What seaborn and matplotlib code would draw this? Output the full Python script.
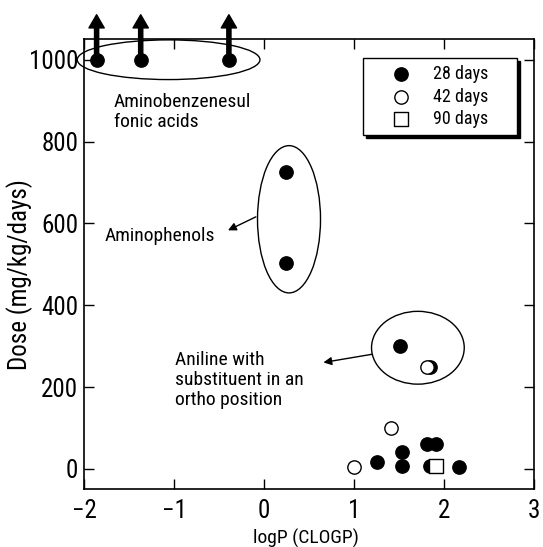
import matplotlib
matplotlib.use('Agg')
import matplotlib.pyplot as plt
from matplotlib.patches import Ellipse
import seaborn as sns
import pandas as pd

# valores
logp_28 = [-1.86, -1.37, -0.39, 0.24, 0.24, 1.51, 1.85, 1.26, 1.53, 1.53, 1.81, 1.91, 1.85, 2.17]
dose_28 = [1000, 1000, 1000, 725, 503, 300, 250, 16, 41, 6, 61, 61, 8, 4]
logp_42 = [1.81, 1.41, 1.00]
dose_42 = [250, 100, 4]
logp_90 = [1.91]
dose_90 = [7]
periodos = ['28 days', '42 days', '90 days']

df = pd.DataFrame({
    'logP': logp_28 + logp_42 + logp_90,
    'Dose': dose_28 + dose_42 + dose_90,
    'Periodo': [periodos[0]] * len(logp_28) + [periodos[1]] * len(logp_42) + [periodos[2]] * len(logp_90),
})

sns.set_theme(style='ticks')
plt.rcParams['font.family'] = ['Roboto Condensed', 'DejaVu Sans']
for k in ['text.color', 'axes.labelcolor', 'xtick.color', 'ytick.color', 'axes.edgecolor']:
    plt.rcParams[k] = 'black'
plt.rcParams['xtick.direction'] = 'in'
plt.rcParams['ytick.direction'] = 'in'

fig = plt.figure(figsize=(5.43, 5.47), dpi=100)
ax = fig.add_axes([0.1547, 0.1055, 0.8287, 0.8227])

estilos = {
    '28 days': dict(marker='o', color='black', edgecolor='black'),
    '42 days': dict(marker='o', color='white', edgecolor='black'),
    '90 days': dict(marker='s', color='white', edgecolor='black'),
}
for p in periodos:
    sub = df[df['Periodo'] == p]
    sns.scatterplot(data=sub, x='logP', y='Dose', s=92, linewidth=1, label=p,
                    ax=ax, zorder=3, **estilos[p])

ax.set_xlim(-2, 3)
ax.set_ylim(-50, 1050)
ax.set_xticks([-2, -1, 0, 1, 2, 3])
ax.set_yticks([0, 200, 400, 600, 800, 1000])
ax.tick_params(axis='both', labelsize=18, length=7, width=1, color='black',
               top=True, right=True)
ax.tick_params(axis='x', pad=7)
ax.tick_params(axis='y', pad=4)
for s in ax.spines.values():
    s.set_color('black')
    s.set_linewidth(1.2)

ax.set_xlabel('logP (CLOGP)', fontsize=14)
ax.set_ylabel('Dose (mg/kg/days)', fontsize=18)
ax.xaxis.set_label_coords(0.493, -0.087)
ax.yaxis.set_label_coords(-0.113, 0.478)

# setas para cima (dose > 1000)
for x, y in zip(logp_28[:3], dose_28[:3]):
    ax.annotate('', xy=(x, 1110), xytext=(x, y), annotation_clip=False,
                arrowprops=dict(facecolor='black', edgecolor='black', width=3,
                                headwidth=11, headlength=9.5, shrink=0))

# elipses em volta dos grupos
for cx, cy, w, h in [(-1.06, 1000, 2.03, 97), (0.278, 610, 0.70, 360), (1.71, 296, 1.03, 178)]:
    ax.add_patch(Ellipse((cx, cy), w, h, fill=False, edgecolor='black', lw=1, clip_on=False))

ax.text(-1.67, 873, 'Aminobenzenesul\nfonic acids', fontsize=14, va='center', linespacing=1.15)
ax.text(-1.77, 570, 'Aminophenols', fontsize=14, va='center')
ax.text(-0.99, 218, 'Aniline with\nsubstituent in an\northo position', fontsize=14,
        va='center', linespacing=1.15)

seta = dict(arrowstyle='-|>', lw=1, color='black', mutation_scale=12, shrinkA=0, shrinkB=0)
ax.annotate('', xy=(-0.40, 583), xytext=(-0.09, 616), arrowprops=seta)
ax.annotate('', xy=(0.66, 260), xytext=(1.20, 280), arrowprops=seta)

leg = ax.legend(loc='upper left', bbox_to_anchor=(0.62, 0.5, 0.342, 0.458), mode='expand',
                borderaxespad=0, fontsize=13, frameon=True, fancybox=False,
                edgecolor='black', framealpha=1, handlelength=3.4, handletextpad=0.1,
                borderpad=0.38, labelspacing=0.25, shadow={'color': 'black', 'alpha': 1})
leg.get_frame().set_linewidth(1)

plt.savefig('out.png', dpi=100)
